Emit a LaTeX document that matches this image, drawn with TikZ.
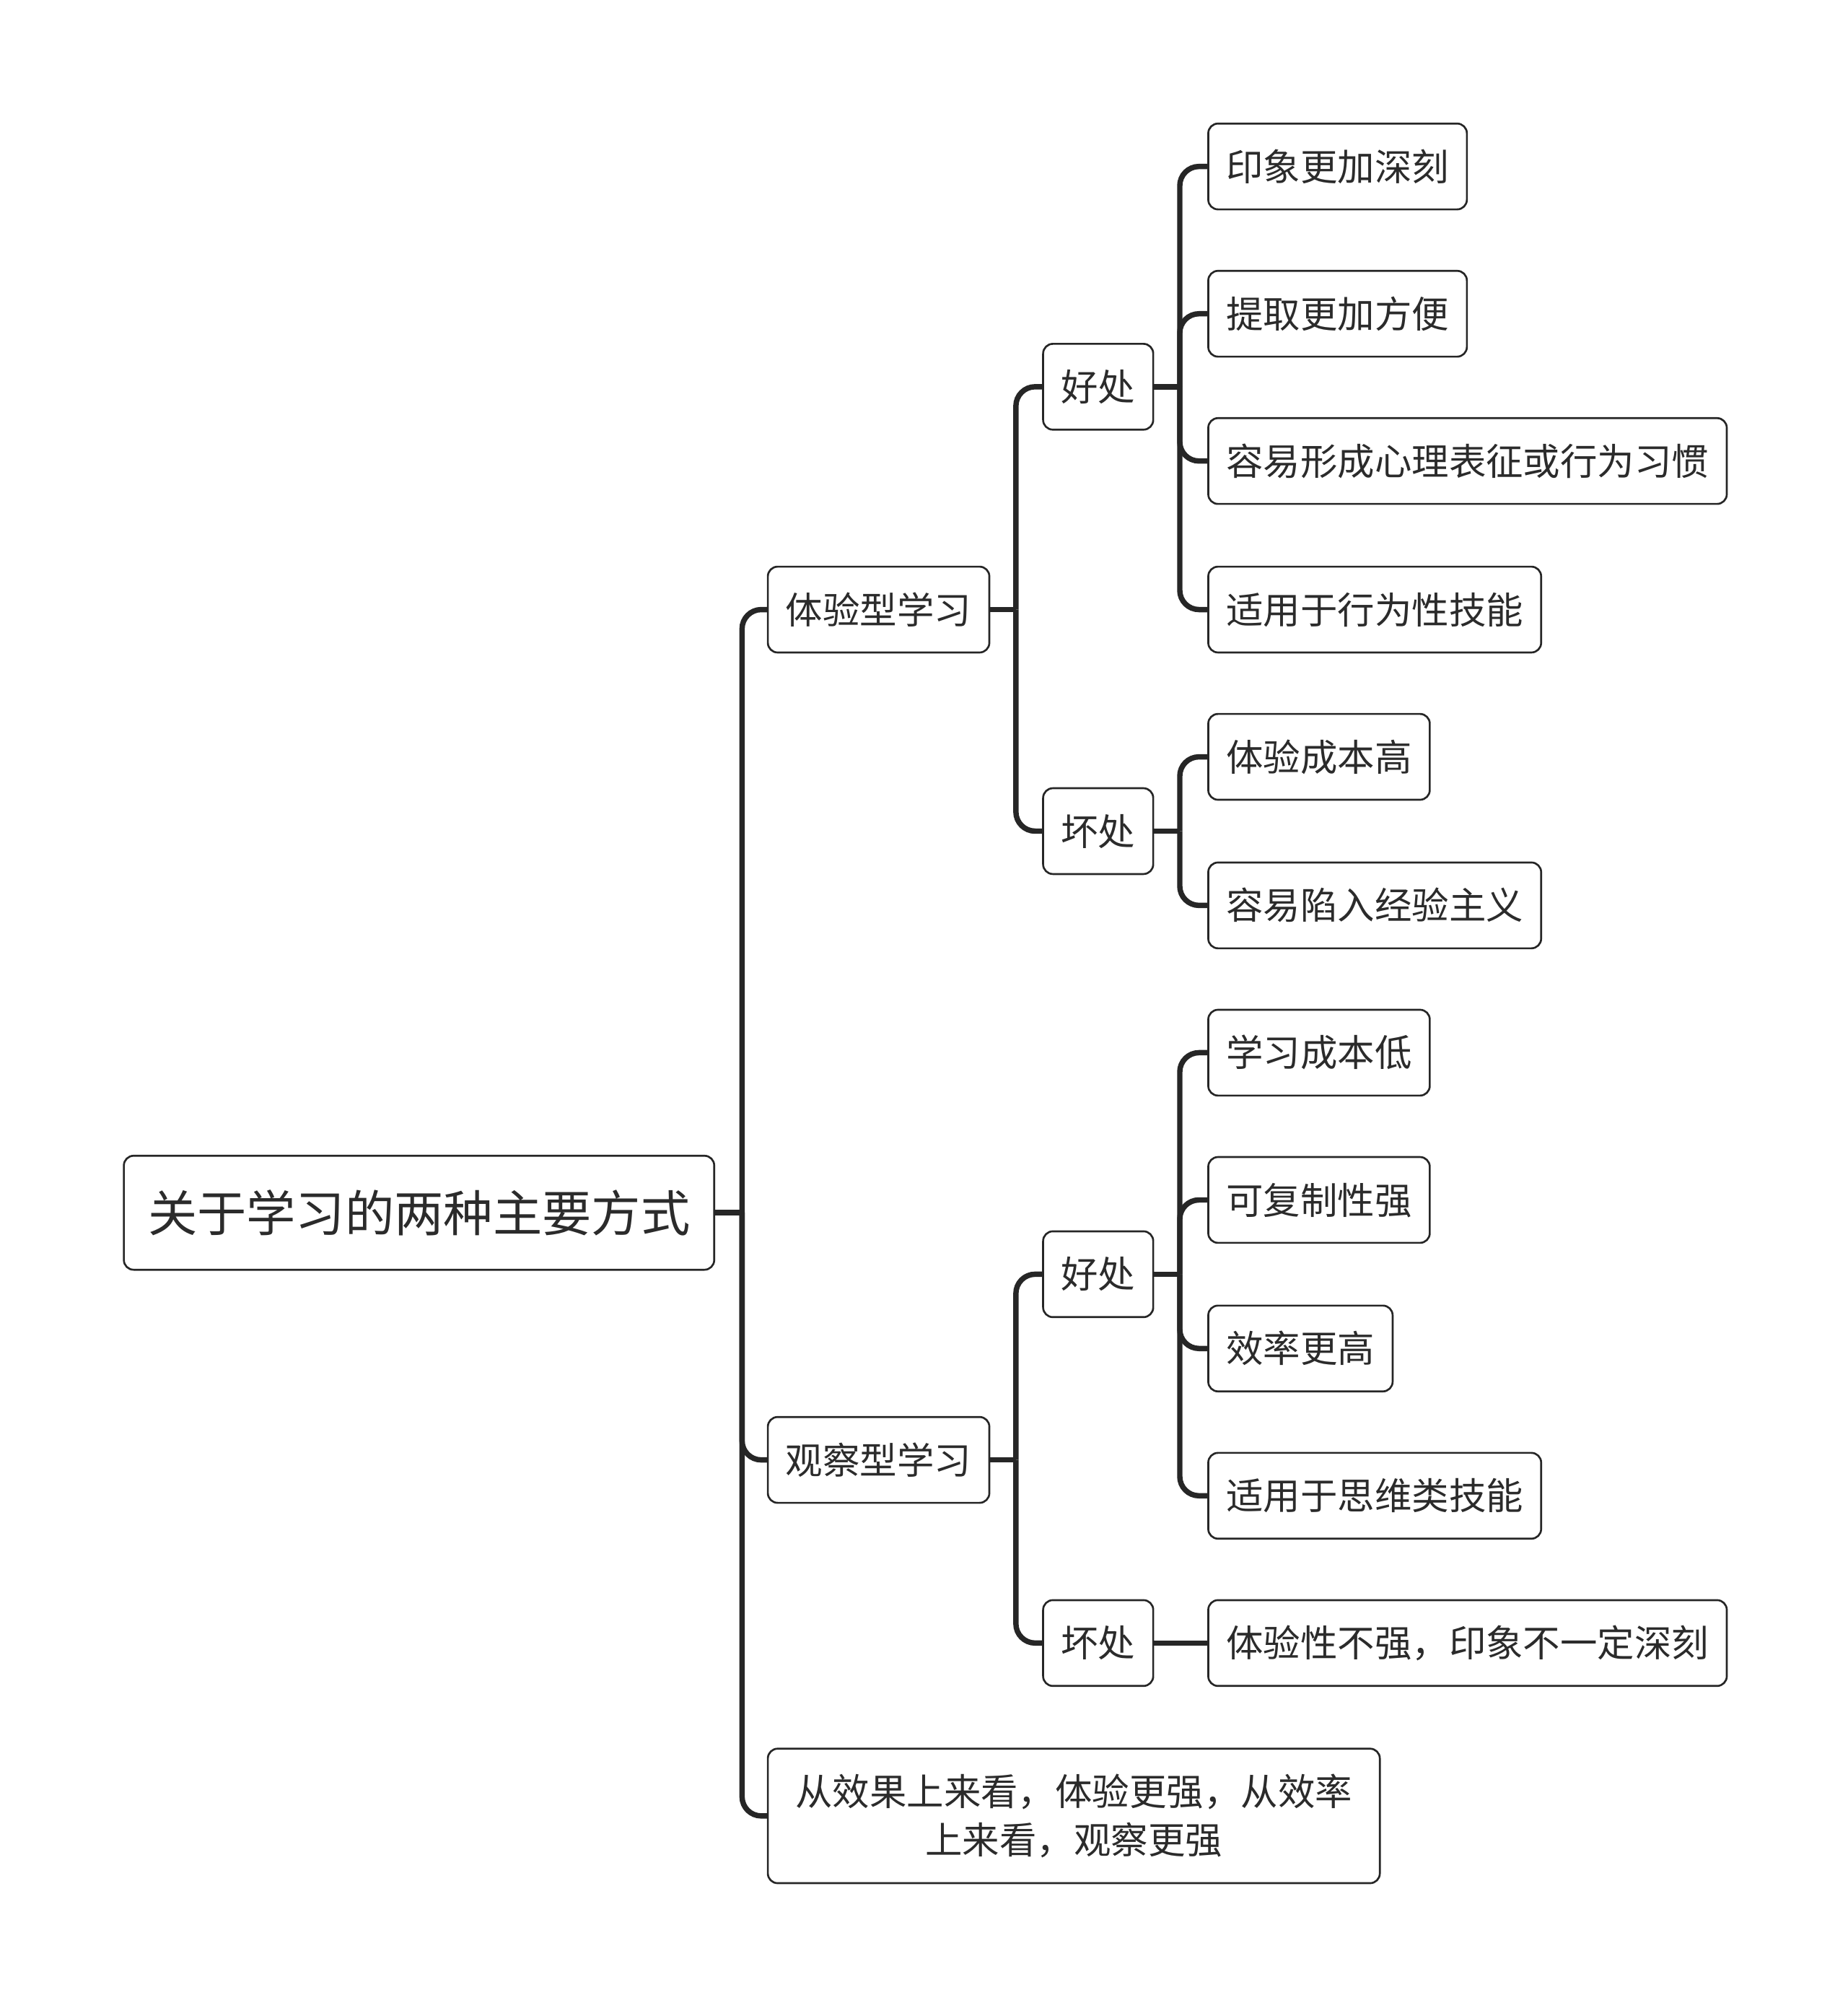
\documentclass[tikz,border=0pt]{standalone}
\usepackage{fontspec}
\setmainfont{Noto Sans CJK SC}
\usepackage{xcolor}
\usepackage{tikz}
\usetikzlibrary{positioning}
\definecolor{xianse}{HTML}{262626}
\definecolor{wenzise}{HTML}{2B2B2B}
\tikzset{
    kuang/.style={
        rectangle,
        draw=xianse,
        line width=0.75pt,
        rounded corners=3.8pt,
        fill=white,
        text=wenzise,
        font=\fontsize{14.5pt}{19pt}\selectfont,
        text height=12.76pt,
        text depth=1.74pt,
        inner xsep=7pt,
        inner ysep=0pt,
        minimum height=33.5pt,
        anchor=west
    },
    zhuti/.style={kuang, font=\fontsize{19.25pt}{24pt}\selectfont,
        text height=16.94pt, text depth=2.31pt,
        inner xsep=9.4pt, minimum height=44.5pt},
    fenzhi/.style={kuang},
    yezi/.style={kuang},
    zongjie/.style={kuang, text height=, text depth=, align=center,
        text width=217.5pt, inner xsep=10.75pt, minimum height=52.5pt},
    lianjie/.style={draw=xianse, line width=2.1pt, rounded corners=7.5pt}
}

\begin{document}
\begin{tikzpicture}[x=0.5pt, y=-0.5pt]
    \useasboundingbox (0,0) rectangle (1443,1568);

    \node[zhuti] (zhu) at (96,947) {关于学习的两种主要方式};

    \node[fenzhi] (tiyan) at (599,476) {体验型学习};
    \node[fenzhi] (guancha) at (599,1140) {观察型学习};
    \node[zongjie] (jielun) at (599,1418)
        {从效果上来看，体验更强，从效率\\上来看，观察更强};

    \node[fenzhi] (hao1) at (814,302) {好处};
    \node[fenzhi] (huai1) at (814,649) {坏处};
    \node[fenzhi] (hao2) at (814,995) {好处};
    \node[fenzhi] (huai2) at (814,1283) {坏处};

    \node[yezi] (y1) at (943,130) {印象更加深刻};
    \node[yezi] (y2) at (943,245) {提取更加方便};
    \node[yezi] (y3) at (943,360) {容易形成心理表征或行为习惯};
    \node[yezi] (y4) at (943,476) {适用于行为性技能};
    \node[yezi] (y5) at (943,591) {体验成本高};
    \node[yezi] (y6) at (943,707) {容易陷入经验主义};
    \node[yezi] (y7) at (943,822) {学习成本低};
    \node[yezi] (y8) at (943,937) {可复制性强};
    \node[yezi] (y9) at (943,1053) {效率更高};
    \node[yezi] (y10) at (943,1168) {适用于思维类技能};
    \node[yezi] (y11) at (943,1283) {体验性不强，印象不一定深刻};

    % zhu gan
    \draw[lianjie] (zhu.east) -- ++(21,0) coordinate (j0);
    \draw[lianjie] (j0) |- (tiyan.west);
    \draw[lianjie] (j0) |- (guancha.west);
    \draw[lianjie] (j0) |- (jielun.west);

    % tiyan xing
    \draw[lianjie] (tiyan.east) -- ++(20,0) coordinate (j1);
    \draw[lianjie] (j1) |- (hao1.west);
    \draw[lianjie] (j1) |- (huai1.west);
    \draw[lianjie] (hao1.east) -- ++(20,0) coordinate (j2);
    \draw[lianjie] (j2) |- (y1.west);
    \draw[lianjie] (j2) |- (y2.west);
    \draw[lianjie] (j2) |- (y3.west);
    \draw[lianjie] (j2) |- (y4.west);
    \draw[lianjie] (huai1.east) -- ++(20,0) coordinate (j3);
    \draw[lianjie] (j3) |- (y5.west);
    \draw[lianjie] (j3) |- (y6.west);

    % guancha xing
    \draw[lianjie] (guancha.east) -- ++(20,0) coordinate (j4);
    \draw[lianjie] (j4) |- (hao2.west);
    \draw[lianjie] (j4) |- (huai2.west);
    \draw[lianjie] (hao2.east) -- ++(20,0) coordinate (j5);
    \draw[lianjie] (j5) |- (y7.west);
    \draw[lianjie] (j5) |- (y8.west);
    \draw[lianjie] (j5) |- (y9.west);
    \draw[lianjie] (j5) |- (y10.west);
    \draw[lianjie] (huai2.east) -- (y11.west);
\end{tikzpicture}
\end{document}
